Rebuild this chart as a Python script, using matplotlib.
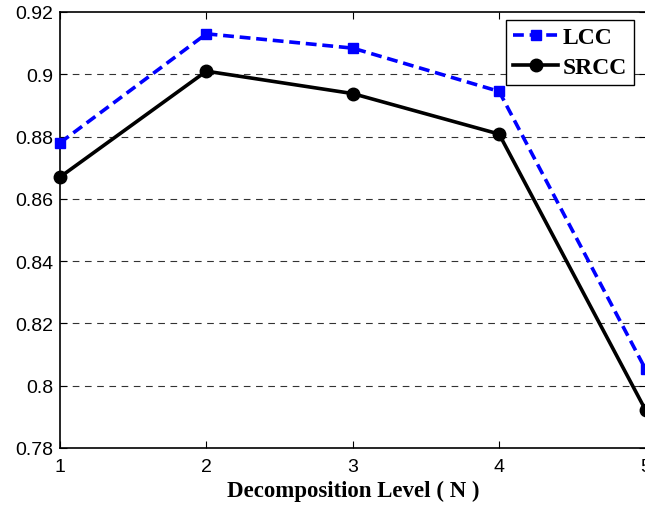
import matplotlib.pyplot as plt

levels = [1, 2, 3, 4, 5]
lcc = [0.878, 0.913, 0.9084, 0.8945, 0.8053]
srcc = [0.867, 0.901, 0.8938, 0.8808, 0.7922]
yticks = [0.78, 0.8, 0.82, 0.84, 0.86, 0.88, 0.9, 0.92]
ytick_labels = ["0.78", "0.8", "0.82", "0.84", "0.86", "0.88", "0.9", "0.92"]

fig = plt.figure(figsize=(6.45, 5.06), dpi=100)
# axes run a bit past the right edge, as in the cropped original
ax = fig.add_axes([60 / 645, 57 / 506, 585.5 / 645, 436 / 506])

ax.plot(levels, lcc, "--s", color="blue", lw=2.6, markersize=7.5,
        dashes=(3, 1.6), label="LCC", clip_on=False, zorder=4)
ax.plot(levels, srcc, "-o", color="black", lw=2.6, markersize=9,
        label="SRCC", clip_on=False, zorder=5)

ax.set_xlim(1, 5)
ax.set_ylim(0.78, 0.92)
ax.set_xticks(levels)
ax.set_yticks(yticks)
ax.set_yticklabels(ytick_labels)
for y in yticks[1:-1]:
    ax.axhline(y, color="black", lw=0.8, ls=(0, (6, 5)), alpha=0.8, zorder=1)

ax.tick_params(direction="in", top=True, right=True, length=5,
               labelsize=14, width=0.8)
ax.tick_params(axis="x", pad=7)
ax.tick_params(axis="y", pad=5)
for lab in ax.get_xticklabels() + ax.get_yticklabels():
    lab.set_family(["Liberation Sans", "DejaVu Sans"])
for s in ax.spines.values():
    s.set_linewidth(1.2)

ax.set_xlabel("Decomposition Level ( N )", family="Liberation Serif",
              fontweight="bold", fontsize=16.5, labelpad=4)

leg = ax.legend(loc="upper right", bbox_to_anchor=(574 / 585.5, 0.982),
                prop={"family": "Liberation Serif", "weight": "bold", "size": 17},
                fancybox=False, edgecolor="black", framealpha=1,
                handlelength=1.9, handletextpad=0.2, borderpad=0.3,
                labelspacing=0.35, borderaxespad=0)
leg.get_frame().set_linewidth(1.0)

fig.savefig("out.png", dpi=100)
